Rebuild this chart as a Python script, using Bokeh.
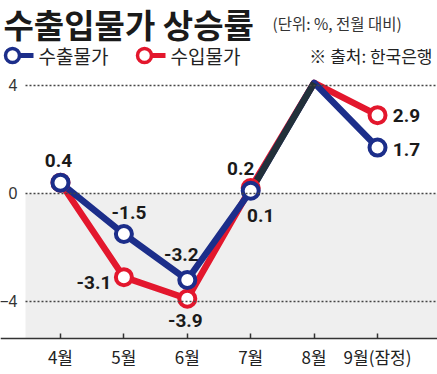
from bokeh.plotting import figure
from bokeh.models import Range1d, BoxAnnotation, ColumnDataSource, Label
from bokeh.core.properties import value
from bokeh.embed import file_html
from bokeh.resources import INLINE

# ---- data ----
months = ["4월", "5월", "6월", "7월", "8월", "9월(잠정)"]
export_vals = [0.4, -1.5, -3.2, 0.1, 4.1, 1.7]
import_vals = [0.4, -3.1, -3.9, 0.2, 4.1, 2.9]
export_labels = ["0.4", "-1.5", "-3.2", "0.1", "", "1.7"]
import_labels = ["", "-3.1", "-3.9", "0.2", "", "2.9"]
yticks = [-4, 0, 4]
ytick_labels = ["\u22124", "0", "4"]
series_names = ["수출물가", "수입물가"]
title_text = "수출입물가 상승률"
subtitle_text = "(단위: %, 전월 대비)"
source_text = "※ 출처: 한국은행"

# ---- styles ----
BLUE = "#1c2e8a"
RED = "#e3172d"
DARK = "#22303a"
KFONT = "Noto Sans CJK KR"
export_off = [(-2, -22), (5, -21), (-6, -25), (10, 25), (0, 0), (29, 2)]
import_off = [(0, 0), (-30, 5), (-2, 22), (-10, -20), (0, 0), (29, 0)]

# plot geometry (ranges chosen so that the frame fills the canvas)
X_LO, X_HI = -0.946, 5.946
Y_LO, Y_HI = -6.704, 7.148
AXIS_X = -0.552     # where the y axis sits
AXIS_Y = -5.370     # where the x axis sits

xs = list(range(len(months)))

p = figure(width=437, height=374, x_range=Range1d(X_LO, X_HI), y_range=Range1d(Y_LO, Y_HI),
           output_backend="svg", toolbar_location=None, min_border=0)
p.outline_line_color = None
p.add_layout(BoxAnnotation(top=0, bottom=AXIS_Y, left=AXIS_X, fill_color="#efefef", fill_alpha=1,
                           line_color=None, level="underlay"))

# ---- header (canvas units) ----
p.add_layout(Label(x=3, y=23, x_units="canvas", y_units="canvas", text=title_text,
                   text_font=KFONT, text_font_style="bold", text_font_size="33px",
                   text_baseline="middle", text_color="#1a1a1a"))
p.add_layout(Label(x=272, y=22, x_units="canvas", y_units="canvas", text=subtitle_text,
                   text_font=KFONT, text_font_size="15.5px",
                   text_baseline="middle", text_color="#333333"))
for cx, name, col in zip([12, 144], series_names, [BLUE, RED]):
    p.add_layout(BoxAnnotation(left=cx + 5, right=cx + 21, top=52.5, bottom=57.5,
                               left_units="canvas", right_units="canvas",
                               top_units="canvas", bottom_units="canvas",
                               fill_color=col, fill_alpha=1, line_color=None, level="overlay"))
    p.add_layout(BoxAnnotation(left=cx - 7, right=cx + 7, top=48, bottom=62,
                               left_units="canvas", right_units="canvas",
                               top_units="canvas", bottom_units="canvas", border_radius=7,
                               fill_color="white", fill_alpha=1, line_color=col, line_alpha=1,
                               line_width=3.5, level="overlay"))
    p.add_layout(Label(x=cx + 26, y=55, x_units="canvas", y_units="canvas", text=name,
                       text_font=KFONT, text_font_size="19px",
                       text_baseline="middle", text_color="#222222"))
p.add_layout(Label(x=432, y=55, x_units="canvas", y_units="canvas", text=source_text,
                   text_font=KFONT, text_font_size="17px", text_align="right",
                   text_baseline="middle", text_color="#222222"))

# ---- grid & axes ----
p.xgrid.visible = False
p.ygrid.ticker = yticks
p.ygrid.level = "glyph"
p.ygrid.cross_bounds = (AXIS_X, X_HI)
p.ygrid.grid_line_color = "#444444"
p.ygrid.grid_line_dash = "2 2"
p.ygrid.grid_line_width = 1.5

p.yaxis.fixed_location = AXIS_X
p.yaxis.ticker = yticks
p.yaxis.major_label_overrides = {t: l for t, l in zip(yticks, ytick_labels)}
p.yaxis.axis_line_color = None
p.yaxis.major_tick_line_color = None
p.yaxis.minor_tick_line_color = None
p.yaxis.major_label_standoff = 2
p.yaxis.major_label_text_font = "Liberation Sans"
p.yaxis.major_label_text_font_size = "16px"
p.yaxis.major_label_text_color = "#333333"

p.xaxis.fixed_location = AXIS_Y
p.xaxis.ticker = xs
p.xaxis.major_label_overrides = {i: m for i, m in zip(xs, months)}
p.xaxis.axis_line_color = "#333333"
p.xaxis.axis_line_width = 1.5
p.xaxis.major_tick_in = 5
p.xaxis.major_tick_out = 0
p.xaxis.major_tick_line_color = "#333333"
p.xaxis.major_tick_line_width = 1.5
p.xaxis.minor_tick_line_color = None
p.xaxis.major_label_standoff = 6
p.xaxis.major_label_text_font = KFONT
p.xaxis.major_label_text_font_size = "17px"
p.xaxis.major_label_text_color = "#222222"

# ---- series ----
p.line(xs, import_vals, line_color=RED, line_width=6.5, line_join="round")
p.line(xs, export_vals, line_color=BLUE, line_width=6.5, line_join="round")
p.line(xs[3:5], export_vals[3:5], line_color=DARK, line_width=6.5, line_join="round")

def point_src(vals, labels, offs):
    idx = [i for i, l in enumerate(labels) if l]
    return ColumnDataSource(dict(x=[xs[i] for i in idx], y=[vals[i] for i in idx],
                                 t=[labels[i] for i in idx],
                                 dx=[offs[i][0] for i in idx], dy=[offs[i][1] for i in idx]))

src_imp = point_src(import_vals, ["0.4"] + import_labels[1:], import_off)
src_exp = point_src(export_vals, export_labels, export_off)
p.scatter("x", "y", source=src_imp, size=16, fill_color="white", line_color=RED, line_width=4)
p.scatter("x", "y", source=src_exp, size=16, fill_color="white", line_color=BLUE, line_width=4)

src_imp_lbl = point_src(import_vals, import_labels, import_off)
for s in (src_imp_lbl, src_exp):
    p.text("x", "y", text="t", x_offset="dx", y_offset="dy", source=s,
           text_font=value("Roboto"), text_font_style="bold", text_font_size="19px",
           text_align="center", text_baseline="middle", text_color="#1a1a1a")

open("out.html", "w").write(file_html(p, INLINE))
